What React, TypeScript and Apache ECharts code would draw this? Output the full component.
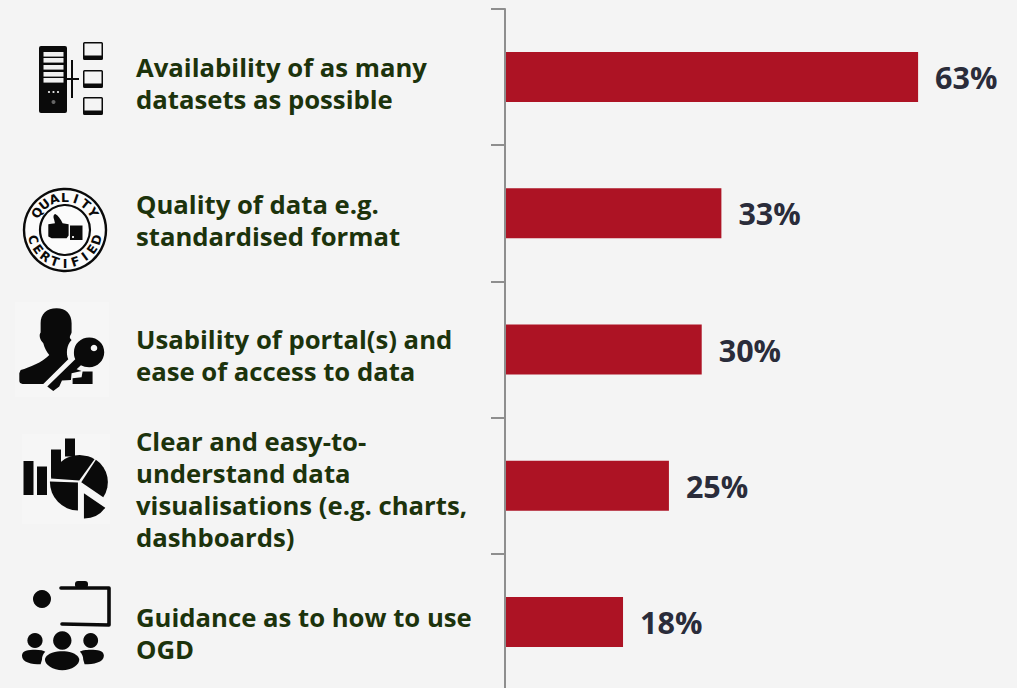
import React, { useEffect, useRef } from "react";
import * as echarts from "echarts";

const categories = [
  "Availability of as many\ndatasets as possible",
  "Quality of data e.g.\nstandardised format",
  "Usability of portal(s) and\nease of access to data",
  "Clear and easy-to-\nunderstand data\nvisualisations (e.g. charts,\ndashboards)",
  "Guidance as to how to use\nOGD",
];
const values = [63, 33, 30, 25, 18];
const labelGaps = [12, 14, 11, 8, 24];

const BG = "#f4f4f4";
const BLACK = "#0a0a0a";

// Icon outlines: coordinates are 3x magnified, relative to an origin
const personPath =
  "M170 55 C140 55 122 72 122 100 L122 128 C116 135 120 150 130 160 C134 175 140 185 148 195 C125 218 90 232 62 240 L58 250 L58 272 Q58 282 68 282 L130 282 L205 208 C198 190 200 165 215 150 C205 142 212 138 215 128 L215 100 C215 72 198 55 170 55 Z";
const keyPath =
  "M268 143 C293 143 313 162 313 187 C313 212 293 232 268 232 C258 232 250 230 243 226 L230 238 L245 243 L215 250 L213 270 L186 272 L178 290 L160 303 L142 290 L226 208 C222 200 222 193 222 187 C222 162 243 143 268 143 Z";
const keyBlockPath = "M218 282 L218 265 L245 262 L248 245 L278 245 L278 282 Z";
const piePaths = [
  "M153 566 A88 88 0 0 1 284 508 L238 572 Z",
  "M288 510 A80 80 0 0 1 310 622 L244 577 Z",
  "M150 575 L234 578 L234 662 A85 85 0 0 1 150 575 Z",
  "M252 610 L316 654 A78 78 0 0 1 252 686 Z",
];
const audiencePaths = [
  "M135 1108 C140 1090 170 1085 187 1085 C204 1085 232 1090 238 1108 C240 1125 215 1142 187 1142 C160 1142 133 1125 135 1108 Z",
  "M66 1098 C66 1082 85 1080 106 1080 C120 1080 132 1082 136 1086 C130 1092 126 1100 126 1110 L122 1124 C95 1124 66 1118 66 1098 Z",
  "M312 1098 C312 1082 293 1080 272 1080 C258 1080 244 1082 240 1086 C246 1092 250 1100 250 1110 L254 1124 C280 1124 312 1118 312 1098 Z",
];
const thumbPath =
  "M105 115 L85 118 L85 155 L95 160 L140 160 L146 152 L146 118 L128 115 C122 102 115 92 106 87 C100 88 100 96 102 102 Z";

const q = ["Q", "U", "A", "L", "I", "T", "Y"];
const c = ["C", "E", "R", "T", "I", "F", "I", "E", "D"];

let registered = false;
function register() {
  if (registered) return;
  registered = true;
  const all: Record<string, string> = {
    person: personPath,
    key: keyPath,
    keyBlock: keyBlockPath,
    thumb: thumbPath,
  };
  piePaths.forEach((d, i) => (all["pie" + i] = d));
  audiencePaths.forEach((d, i) => (all["aud" + i] = d));
  Object.keys(all).forEach((k) =>
    echarts.graphic.registerShape(k, echarts.graphic.extendPath(all[k], {}) as any)
  );
}

const shape = (type: string, ox: number, oy: number, fill = BLACK) => ({
  type,
  x: ox,
  y: oy,
  scaleX: 1 / 3,
  scaleY: 1 / 3,
  silent: true,
  style: { fill },
});
const rect = (x: number, y: number, w: number, h: number, fill = BLACK, r = 0) => ({
  type: "rect",
  silent: true,
  shape: { x, y, width: w, height: h, r },
  style: { fill },
});
const circ = (cx: number, cy: number, r: number, fill = BLACK, stroke?: string, lineWidth = 0) => ({
  type: "circle",
  silent: true,
  shape: { cx, cy, r },
  style: { fill, stroke, lineWidth },
});
const poly = (points: number[][], lineWidth: number) => ({
  type: "polyline",
  silent: true,
  shape: { points },
  style: { stroke: BLACK, lineWidth, fill: "none", lineCap: "round", lineJoin: "round" },
});
const letter = (t: string, cx: number, cy: number, r: number, deg: number, rotDeg: number) => ({
  type: "text",
  silent: true,
  x: cx + r * Math.cos((deg * Math.PI) / 180),
  y: cy + r * Math.sin((deg * Math.PI) / 180),
  rotation: (-rotDeg * Math.PI) / 180,
  style: {
    text: t,
    fill: BLACK,
    fontSize: 12.5,
    fontWeight: 700,
    fontFamily: "DejaVu Sans",
    align: "center",
    verticalAlign: "middle",
    textAlign: "center",
    textVerticalAlign: "middle",
  },
});

function monitor(y: number) {
  return [
    rect(83, y, 20, 18, BLACK, 1.5),
    rect(84.5, y + 1.5, 17, 12, BG),
  ];
}

function icons() {
  const els: any[] = [];
  // servers
  els.push(rect(39, 46, 28, 67, BLACK, 2));
  [52, 58, 65, 72, 78].forEach((y) => els.push(rect(43.5, y, 20, 4.6, "#f0f0f0")));
  [49, 53.5, 58].forEach((x) => els.push(circ(x, 92, 1.1, "#e0e0e0")));
  els.push(circ(53.5, 102, 2, "#666666"));
  els.push(rect(71, 60, 2, 38), rect(66, 78, 13, 2));
  [42, 70, 97].forEach((y) => els.push(...monitor(y)));
  // badge
  els.push(circ(65, 230, 41, "#fbfbfb", BLACK, 2.4));
  els.push(circ(65, 230, 25, "#fbfbfb", BLACK, 2.2));
  const qStep = 116 / (q.length - 1);
  q.forEach((t, i) => {
    const d = -148 + qStep * i;
    els.push(letter(t, 65, 230, 33, d, d + 90));
  });
  const cStep = 146 / (c.length - 1);
  c.forEach((t, i) => {
    const d = 163 - cStep * i;
    els.push(letter(t, 65, 230, 33, d, d - 90));
  });
  els.push(shape("thumb", 20, 185));
  els.push(rect(70, 225.5, 12.5, 14.5), rect(72, 236, 2, 2, "#dddddd"));
  // person and key
  els.push(rect(15, 302, 94, 95, "#f6f6f6"));
  els.push(shape("person", 0, 290));
  els.push(shape("key", 0, 290));
  els.push(circ(94, 348, 3.3, "#f4f4f4"));
  els.push(shape("keyBlock", 0, 290));
  // bars and pie
  els.push(rect(22, 434, 88, 90, "#f6f6f6"));
  els.push(rect(23.5, 461, 10, 34), rect(37, 466.5, 10, 28.5));
  els.push(rect(51, 449.5, 10, 28), rect(65, 438.5, 10, 18));
  els.push(shape("pie0", 0, 290), shape("pie1", 0, 290), shape("pie2", 0, 290), shape("pie3", 0, 290));
  // presenter
  els.push(poly([[61, 588], [109, 588], [109, 625], [62, 624]], 3.6));
  els.push(rect(75, 581, 13, 7, BLACK, 3));
  els.push(circ(42, 599, 9));
  els.push(circ(35, 640.5, 7.6), circ(62.3, 640.5, 9.2), circ(90.7, 640.5, 7.4));
  els.push(shape("aud0", 0, 290), shape("aud1", 0, 290), shape("aud2", 0, 290));
  return els;
}

const labelRich: Record<string, any> = {
  t: {
    color: "#1c330c",
    fontFamily: "Open Sans",
    fontWeight: 700,
    fontSize: 25.7,
    lineHeight: 32,
  },
};
labelGaps.forEach((g, i) => {
  labelRich["gap" + i] = { fontSize: 1, lineHeight: g, color: BG };
});

export default function App() {
  const ref = useRef<HTMLDivElement>(null);
  useEffect(() => {
    document.body.style.margin = "0";
    document.body.style.background = BG;
    register();
    const chart = echarts.init(ref.current!, null, { renderer: "svg" });
    chart.setOption({
      animation: false,
      backgroundColor: BG,
      grid: { left: 505, top: 9, width: 459, height: 681, containLabel: false, outerBoundsMode: "none" },
      xAxis: { type: "value", min: 0, max: 70, show: false },
      yAxis: {
        type: "category",
        inverse: true,
        z: 3,
        data: categories,
        axisLine: { show: true, lineStyle: { color: "#8e8e8e", width: 2 } },
        axisTick: { show: true, length: 14, lineStyle: { color: "#8e8e8e", width: 2 } },
        axisLabel: {
          align: "left",
          margin: 369,
          interval: 0,
          formatter: (v: string, i: number) =>
            `{gap${i}| }\n` + v.split("\n").map((l) => `{t|${l}}`).join("\n"),
          rich: labelRich,
        },
      },
      series: [
        {
          type: "bar",
          data: values,
          barWidth: 50,
          itemStyle: { color: "#ad1324" },
          label: {
            show: true,
            position: "right",
            distance: 17,
            formatter: "{c}%",
            color: "#2a2c3a",
            fontFamily: "Open Sans",
            fontWeight: 700,
            fontSize: 30.5,
            padding: [3, 0, 0, 0],
          },
        },
      ],
      graphic: { elements: icons() },
    });
    return () => chart.dispose();
  }, []);
  return <div ref={ref} style={{ position: "absolute", left: 0, top: 0, width: 1017, height: 688, overflow: "hidden" }} />;
}
